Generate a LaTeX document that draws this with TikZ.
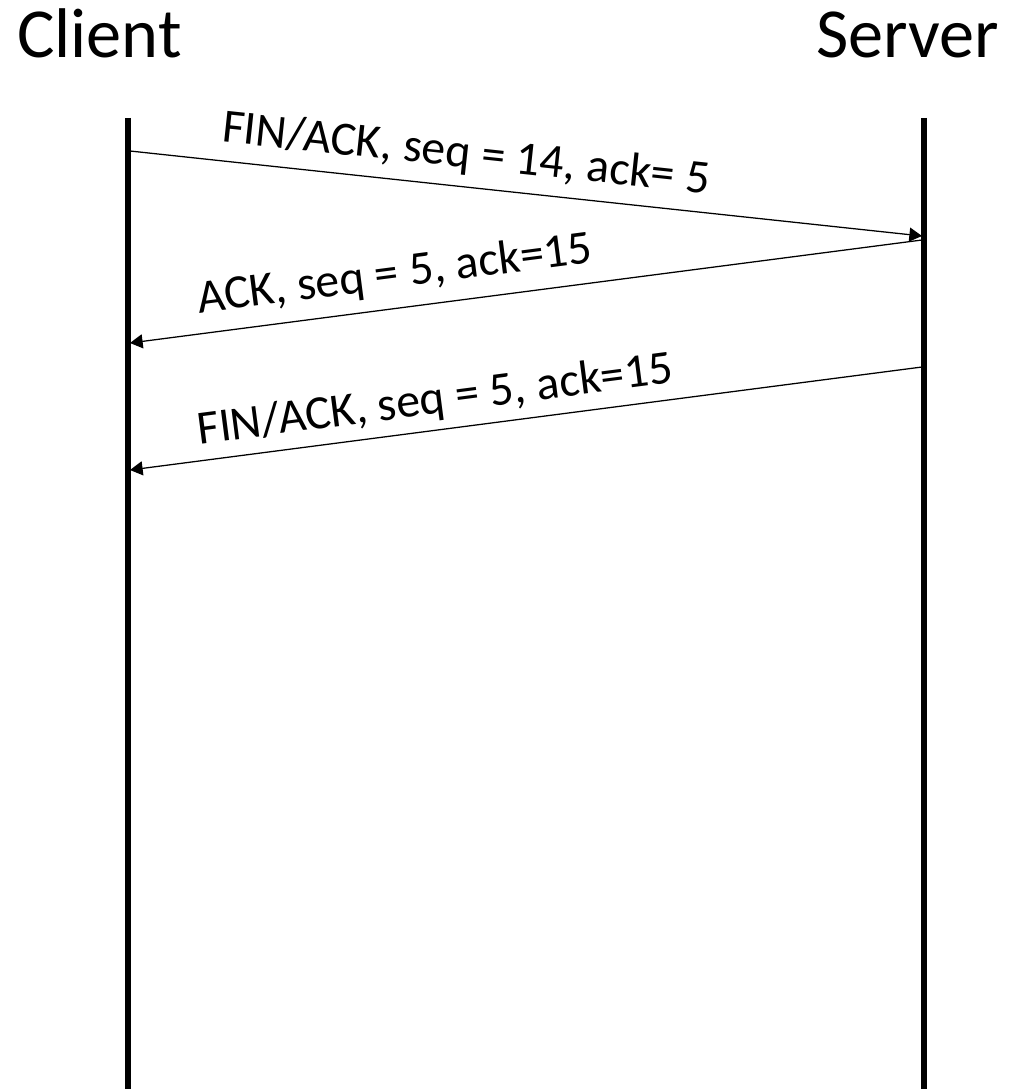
\documentclass[tikz,border=0pt]{standalone}
\usepackage{fontspec}
\setmainfont{Carlito}
\usetikzlibrary{arrows.meta}

\begin{document}
\begin{tikzpicture}[
  lifeline/.style={line width=3.6pt},
  msg/.style={line width=0.9pt, -{Triangle[length=9pt,width=10pt]}},
  title/.style={font=\fontsize{50}{60}\selectfont, anchor=base, inner sep=0pt},
  lbl/.style={font=\fontsize{34}{40}\selectfont, sloped, inner sep=0pt}]
  \useasboundingbox (0,0) rectangle (25.25,-27.225);

\node[title] (client) at (2.49,-1.45) {Client};
\node[title] (server) at (22.69,-1.45) {Server};

\coordinate (ctop) at (3.2,-2.95);
\coordinate (cbot) at (3.2,-27.4);
\coordinate (stop) at (23.1,-2.95);
\coordinate (sbot) at (23.1,-27.4);
\draw[lifeline] (ctop) -- (cbot);
\draw[lifeline] (stop) -- (sbot);

\coordinate (c1) at (3.25,-3.775);
\coordinate (s1) at (23.05,-5.9);
\coordinate (s2) at (23.05,-6.0);
\coordinate (c2) at (3.25,-8.575);
\coordinate (s3) at (23.05,-9.175);
\coordinate (c3) at (3.25,-11.75);

\draw[msg] (c1) -- node[lbl, above=0.27cm, pos=0.42] {FIN/ACK, seq = 14, ack= 5} (s1);
\draw[msg] (s2) -- node[lbl, above=0.3cm, pos=0.66] {ACK, seq = 5, ack=15} (c2);
\draw[msg] (s3) -- node[lbl, above=0.2cm, pos=0.61] {FIN/ACK, seq = 5, ack=15} (c3);

\end{tikzpicture}
\end{document}
